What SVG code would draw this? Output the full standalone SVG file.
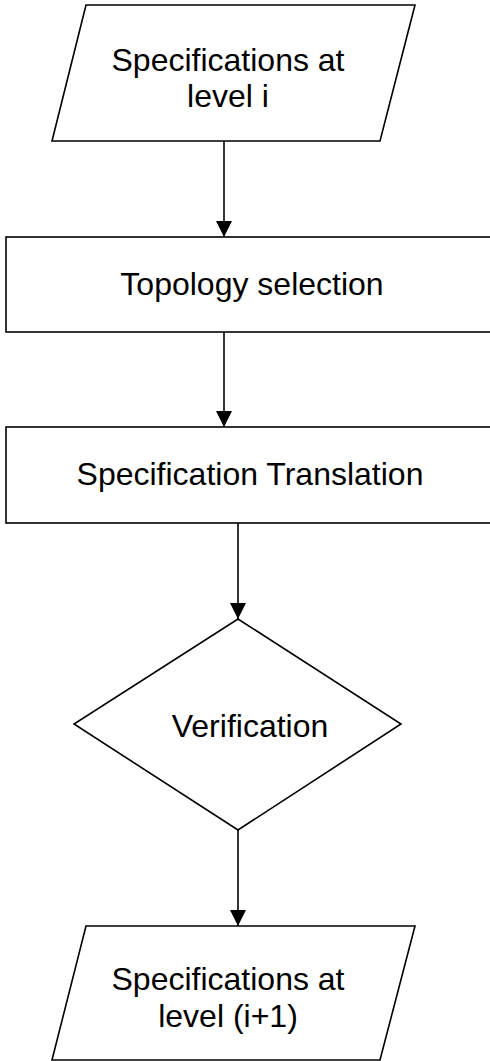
<svg xmlns="http://www.w3.org/2000/svg" width="490" height="1061" viewBox="0 0 490 1061">
  <defs>
    <style>
      .shape { fill: #ffffff; stroke: #000000; stroke-width: 1.6; }
      .label { font-family: "Liberation Sans", Arial, sans-serif; font-size: 32px; fill: #000000; text-anchor: middle; }
      .edge { fill: none; stroke: #000000; stroke-width: 1.6; marker-end: url(#arrow); }
    </style>
    <marker id="arrow" viewBox="0 0 16 16" refX="16" refY="8" markerWidth="16" markerHeight="16" markerUnits="userSpaceOnUse" orient="auto">
      <path d="M0,0 L16,8 L0,16 Z" fill="#000000"/>
    </marker>
  </defs>
  <rect width="490" height="1061" fill="#ffffff"/>

  <g id="connectors">
    <line class="edge" x1="224" y1="141" x2="224" y2="237"/>
    <line class="edge" x1="224" y1="332" x2="224" y2="427"/>
    <line class="edge" x1="238" y1="523" x2="238" y2="619"/>
    <line class="edge" x1="238" y1="830" x2="238" y2="926"/>
  </g>

  <g id="spec-level-i">
    <polygon class="shape" points="86,5 415,5 380,141 52,141"/>
    <text class="label" x="228" y="71">Specifications at</text>
    <text class="label" x="228" y="107">level i</text>
  </g>

  <g id="topology-selection">
    <rect class="shape" x="6" y="237" width="492" height="95"/>
    <text class="label" x="252" y="295">Topology selection</text>
  </g>

  <g id="specification-translation">
    <rect class="shape" x="6" y="427" width="492" height="96"/>
    <text class="label" x="250" y="485">Specification Translation</text>
  </g>

  <g id="verification">
    <polygon class="shape" points="238,619 401,724 238,830 74,724"/>
    <text class="label" x="250" y="737">Verification</text>
  </g>

  <g id="spec-level-i-plus-1">
    <polygon class="shape" points="86,926 415,926 380,1060 52,1060"/>
    <text class="label" x="228" y="990">Specifications at</text>
    <text class="label" x="228" y="1027">level (i+1)</text>
  </g>
</svg>
